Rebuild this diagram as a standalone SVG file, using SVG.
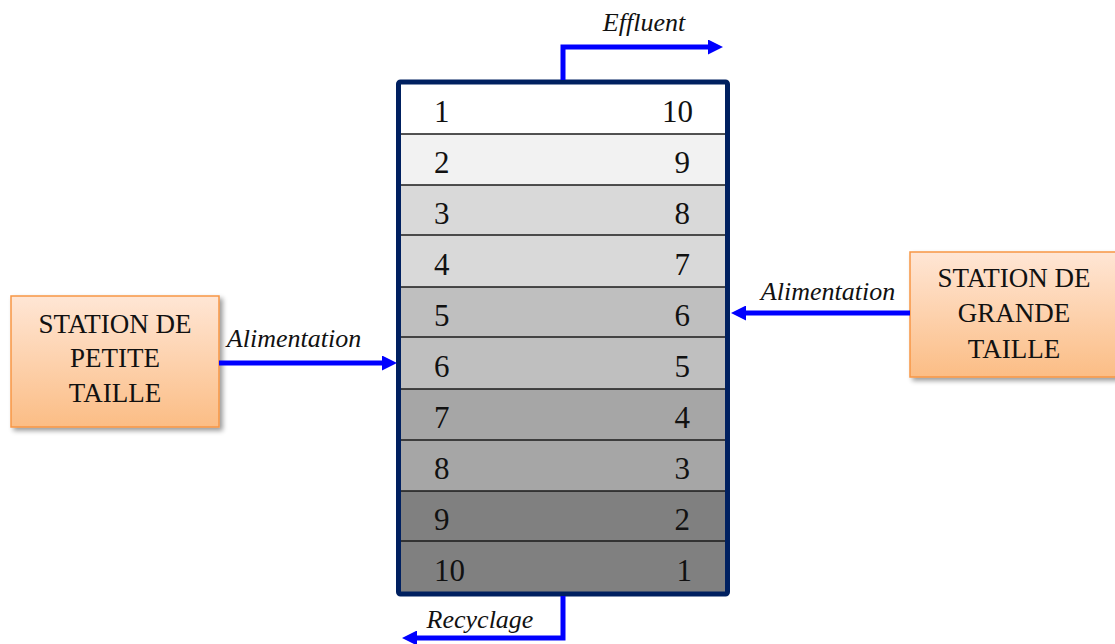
<svg xmlns="http://www.w3.org/2000/svg" width="1115" height="644" viewBox="0 0 1115 644">
<style>
text{font-family:'Liberation Serif','Times New Roman',Times,'DejaVu Serif',serif;fill:#111}
.num{font-size:31px}
.lbl{font-size:26px;font-style:italic}
.box{font-size:27px;text-anchor:middle}
.flow{fill:none;stroke:#0000ff;stroke-width:5}
.sep{stroke:#1a1a1a;stroke-width:1.5}
.st{stroke:#f79646;stroke-width:1.5;fill:url(#og)}
</style>
<defs>
<linearGradient id="og" x1="0" y1="0" x2="0" y2="1">
<stop offset="0" stop-color="#ffe6d5"/>
<stop offset="1" stop-color="#fbbd85"/>
</linearGradient>
<filter id="sh" x="-10%" y="-10%" width="130%" height="130%">
<feGaussianBlur in="SourceAlpha" stdDeviation="2.5"/>
<feOffset dx="3" dy="3"/>
<feComponentTransfer><feFuncA type="linear" slope="0.4"/></feComponentTransfer>
<feMerge><feMergeNode/><feMergeNode in="SourceGraphic"/></feMerge>
</filter>
<marker id="ah" markerWidth="15" markerHeight="15" refX="1" refY="7.5" orient="auto" markerUnits="userSpaceOnUse">
<path d="M0,0 L15,7.5 L0,15 Z" fill="#0000ff"/>
</marker>
</defs>

<g id="column">
<rect x="399" y="83" width="328" height="51" fill="#ffffff"/>
<rect x="399" y="134" width="328" height="51" fill="#f2f2f2"/>
<rect x="399" y="185" width="328" height="102" fill="#d9d9d9"/>
<rect x="399" y="287" width="328" height="102" fill="#bfbfbf"/>
<rect x="399" y="389" width="328" height="102" fill="#a6a6a6"/>
<rect x="399" y="491" width="328" height="102" fill="#808080"/>
<line class="sep" x1="399" y1="134" x2="727" y2="134"/>
<line class="sep" x1="399" y1="185" x2="727" y2="185"/>
<line class="sep" x1="399" y1="235" x2="727" y2="235"/>
<line class="sep" x1="399" y1="287" x2="727" y2="287"/>
<line class="sep" x1="399" y1="337" x2="727" y2="337"/>
<line class="sep" x1="399" y1="389" x2="727" y2="389"/>
<line class="sep" x1="399" y1="440" x2="727" y2="440"/>
<line class="sep" x1="399" y1="491" x2="727" y2="491"/>
<line class="sep" x1="399" y1="541" x2="727" y2="541"/>
<rect x="398.5" y="82" width="329" height="512" rx="2" fill="none" stroke="#002060" stroke-width="5"/>
<g class="num">
<text class="num" x="434" y="122">1</text><text class="num" x="693" y="122" text-anchor="end">10</text>
<text class="num" x="434" y="173">2</text><text class="num" x="690" y="173" text-anchor="end">9</text>
<text class="num" x="434" y="224">3</text><text class="num" x="690" y="224" text-anchor="end">8</text>
<text class="num" x="434" y="275">4</text><text class="num" x="690" y="275" text-anchor="end">7</text>
<text class="num" x="434" y="326">5</text><text class="num" x="690" y="326" text-anchor="end">6</text>
<text class="num" x="434" y="377">6</text><text class="num" x="690" y="377" text-anchor="end">5</text>
<text class="num" x="434" y="428">7</text><text class="num" x="690" y="428" text-anchor="end">4</text>
<text class="num" x="434" y="479">8</text><text class="num" x="690" y="479" text-anchor="end">3</text>
<text class="num" x="434" y="530">9</text><text class="num" x="690" y="530" text-anchor="end">2</text>
<text class="num" x="434" y="581">10</text><text class="num" x="692" y="581" text-anchor="end">1</text>
</g>
</g>

<g id="small-station">
<rect class="st" x="11" y="296" width="208" height="131" filter="url(#sh)"/>
<text class="box" x="115" y="333">STATION DE</text>
<text class="box" x="115" y="367">PETITE</text>
<text class="box" x="115" y="402">TAILLE</text>
</g>

<g id="large-station">
<rect class="st" x="910" y="252" width="210" height="125" filter="url(#sh)"/>
<text class="box" x="1014" y="287">STATION DE</text>
<text class="box" x="1014" y="322">GRANDE</text>
<text class="box" x="1014" y="358">TAILLE</text>
</g>

<g id="connectors">
<path class="flow" d="M563,80 V47 H709" marker-end="url(#ah)"/>
<path class="flow" d="M563,596 V638 H416" marker-end="url(#ah)"/>
<path class="flow" d="M219,363 H383" marker-end="url(#ah)"/>
<path class="flow" d="M910,313 H745" marker-end="url(#ah)"/>
<text class="lbl" x="644" y="31" text-anchor="middle">Effluent</text>
<text class="lbl" x="480" y="628" text-anchor="middle">Recyclage</text>
<text class="lbl" x="294" y="347" text-anchor="middle">Alimentation</text>
<text class="lbl" x="828" y="300" text-anchor="middle">Alimentation</text>
</g>
</svg>
